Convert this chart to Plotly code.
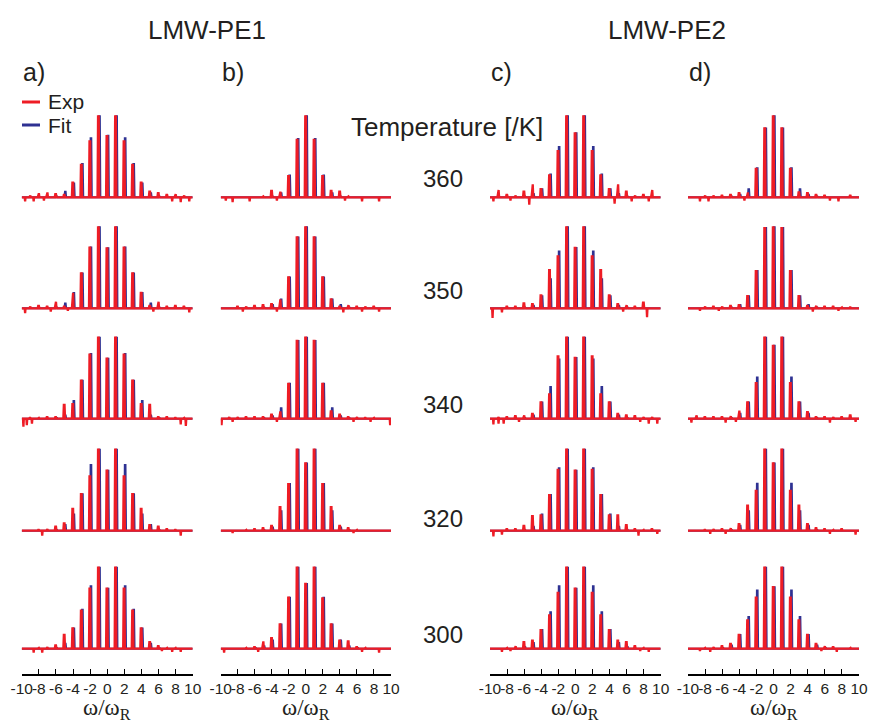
import plotly.graph_objects as go
from plotly.subplots import make_subplots

W, H = 869, 721

# sideband orders (omega / omega_R) and sample temperatures, top row first
orders = list(range(-10, 11))
temperatures = [360, 350, 340, 320, 300]
tick_values = [-10, -8, -6, -4, -2, 0, 2, 4, 6, 8, 10]
tick_labels = ["-10", "-8", "-6", "-4", "-2", "0", "2", "4", "6", "8", "10"]

# normalised sideband intensities, orders -10 ... 10, one row per temperature
exp_a = [
    [0, 0.02, 0.05, 0.06, 0.04, 0.03, 0.18, 0.40, 0.69, 1.00, 0.755, 1.00, 0.69, 0.40, 0.18, 0.07, 0.05, 0.03, 0.04, 0.02, 0],
    [0, 0.02, 0.03, 0.02, 0.08, 0.02, 0.19, 0.43, 0.75, 1.00, 0.74, 1.00, 0.75, 0.43, 0.19, 0.03, 0.08, 0.02, 0.03, 0.02, 0],
    [0, 0.01, 0.01, 0.02, 0.02, 0.17, 0.18, 0.47, 0.79, 1.00, 0.74, 1.00, 0.79, 0.47, 0.18, 0.17, 0.02, 0.02, 0.01, 0.01, 0],
    [0, 0, 0.01, 0.02, 0.05, 0.09, 0.27, 0.45, 0.67, 1.00, 0.74, 1.00, 0.67, 0.45, 0.27, 0.07, 0.05, 0.02, 0.01, 0, 0],
    [0, 0, 0.01, 0.02, 0.04, 0.17, 0.25, 0.47, 0.74, 1.00, 0.74, 1.00, 0.74, 0.47, 0.25, 0.08, 0.03, 0.01, 0.01, 0, 0],
]
fit_a = [
    [0, 0, 0, 0, 0.01, 0.07, 0.17, 0.41, 0.73, 1.00, 0.76, 1.00, 0.73, 0.41, 0.17, 0.05, 0.01, 0, 0, 0, 0],
    [0, 0, 0, 0, 0.01, 0.06, 0.19, 0.43, 0.75, 1.00, 0.74, 1.00, 0.75, 0.43, 0.19, 0.06, 0.01, 0, 0, 0, 0],
    [0, 0, 0, 0, 0.01, 0.04, 0.22, 0.47, 0.80, 1.00, 0.74, 1.00, 0.80, 0.47, 0.22, 0.04, 0.01, 0, 0, 0, 0],
    [0, 0, 0, 0, 0.01, 0.07, 0.20, 0.45, 0.81, 1.00, 0.74, 1.00, 0.81, 0.45, 0.20, 0.07, 0.01, 0, 0, 0, 0],
    [0, 0, 0, 0, 0.01, 0.06, 0.25, 0.48, 0.77, 1.00, 0.74, 1.00, 0.77, 0.48, 0.25, 0.06, 0.01, 0, 0, 0, 0],
]
exp_b = [
    [0, 0, 0, 0, 0, 0.01, 0.08, 0.07, 0.26, 0.71, 1.00, 0.71, 0.26, 0.08, 0.07, 0.01, 0, 0, 0, 0, 0],
    [0, 0, 0.02, 0.02, 0.03, 0.04, 0.05, 0.11, 0.38, 0.875, 1.00, 0.875, 0.38, 0.11, 0.02, 0.04, 0.02, 0.02, 0.02, 0, 0],
    [0, 0.02, 0.02, 0.02, 0.02, 0.02, 0.05, 0.09, 0.43, 0.96, 1.00, 0.96, 0.43, 0.09, 0.05, 0.02, 0.02, 0.01, 0.01, 0, 0],
    [0, 0, 0, 0.01, 0.02, 0.03, 0.06, 0.29, 0.575, 1.00, 0.83, 1.00, 0.575, 0.29, 0.06, 0.03, 0.01, 0, 0, 0, 0],
    [0, 0, 0, 0.01, 0.02, 0.09, 0.13, 0.30, 0.63, 1.00, 0.80, 1.00, 0.62, 0.30, 0.10, 0.09, 0.02, 0.01, 0, 0, 0],
]
fit_b = [
    [0, 0, 0, 0, 0, 0, 0.01, 0.05, 0.27, 0.72, 1.00, 0.72, 0.27, 0.05, 0.01, 0, 0, 0, 0, 0, 0],
    [0, 0, 0, 0, 0, 0.01, 0.04, 0.11, 0.38, 0.875, 1.00, 0.875, 0.38, 0.11, 0.04, 0.01, 0, 0, 0, 0, 0],
    [0, 0, 0, 0, 0, 0.01, 0.03, 0.13, 0.43, 0.96, 1.00, 0.96, 0.43, 0.13, 0.03, 0.01, 0, 0, 0, 0, 0],
    [0, 0, 0, 0, 0, 0.01, 0.04, 0.24, 0.575, 1.00, 0.83, 1.00, 0.575, 0.24, 0.04, 0.01, 0, 0, 0, 0, 0],
    [0, 0, 0, 0, 0.01, 0.03, 0.10, 0.30, 0.63, 1.00, 0.80, 1.00, 0.63, 0.30, 0.10, 0.03, 0.01, 0, 0, 0, 0],
]
exp_c = [
    [0, 0.09, 0.03, 0.02, 0.07, 0.16, 0.10, 0.27, 0.57, 1.00, 0.79, 1.00, 0.57, 0.27, 0.10, 0.16, 0.07, 0.02, 0.03, 0.09, 0],
    [0, 0, 0.02, 0.02, 0.06, 0.05, 0.16, 0.47, 0.64, 1.00, 0.745, 1.00, 0.64, 0.47, 0.16, 0.05, 0.04, 0.02, 0.07, 0, 0],
    [0, 0.02, 0.02, 0.03, 0.04, 0.06, 0.20, 0.30, 0.77, 1.00, 0.75, 1.00, 0.77, 0.30, 0.20, 0.06, 0.04, 0.03, 0.02, 0.02, 0],
    [0, 0, 0.02, 0.02, 0.06, 0.18, 0.19, 0.44, 0.75, 1.00, 0.74, 1.00, 0.75, 0.44, 0.19, 0.19, 0.07, 0.02, 0.01, 0.02, 0],
    [0, 0, 0.01, 0.03, 0.08, 0.10, 0.23, 0.41, 0.69, 1.00, 0.74, 1.00, 0.69, 0.41, 0.23, 0.10, 0.08, 0.03, 0.01, 0, 0],
]
fit_c = [
    [0, 0, 0, 0, 0.01, 0.04, 0.10, 0.28, 0.62, 1.00, 0.79, 1.00, 0.62, 0.28, 0.10, 0.04, 0.01, 0, 0, 0, 0],
    [0, 0, 0, 0, 0.01, 0.03, 0.15, 0.36, 0.70, 1.00, 0.745, 1.00, 0.70, 0.36, 0.15, 0.03, 0.01, 0, 0, 0, 0],
    [0, 0, 0, 0, 0.01, 0.04, 0.20, 0.39, 0.73, 1.00, 0.75, 1.00, 0.73, 0.39, 0.20, 0.04, 0.01, 0, 0, 0, 0],
    [0, 0, 0, 0, 0.01, 0.05, 0.20, 0.44, 0.77, 1.00, 0.74, 1.00, 0.77, 0.44, 0.20, 0.05, 0.01, 0, 0, 0, 0],
    [0, 0, 0, 0, 0.02, 0.07, 0.23, 0.45, 0.77, 1.00, 0.74, 1.00, 0.77, 0.45, 0.23, 0.07, 0.02, 0, 0, 0, 0],
]
exp_d = [
    [0, 0, 0.02, 0.02, 0.02, 0.03, 0.05, 0.06, 0.35, 0.85, 1.00, 0.85, 0.35, 0.06, 0.05, 0.03, 0.02, 0, 0, 0.02, 0],
    [0, 0, 0.02, 0.02, 0.02, 0.03, 0.04, 0.15, 0.46, 0.99, 1.00, 0.99, 0.46, 0.15, 0.03, 0.03, 0.02, 0.02, 0.01, 0.01, 0],
    [0, 0.04, 0.02, 0.02, 0.02, 0.03, 0.10, 0.20, 0.44, 1.00, 0.90, 1.00, 0.44, 0.20, 0.08, 0.02, 0.02, 0.02, 0.02, 0.04, 0],
    [0, 0, 0.01, 0.02, 0.02, 0.03, 0.08, 0.31, 0.49, 1.00, 0.83, 1.00, 0.49, 0.31, 0.08, 0.03, 0.02, 0.01, 0.02, 0, 0],
    [0, 0, 0.01, 0.02, 0.03, 0.06, 0.17, 0.35, 0.63, 1.00, 0.76, 1.00, 0.63, 0.35, 0.17, 0.06, 0.03, 0.02, 0, 0.01, 0],
]
fit_d = [
    [0, 0, 0, 0, 0, 0.01, 0.03, 0.10, 0.36, 0.85, 1.00, 0.85, 0.36, 0.10, 0.03, 0.01, 0, 0, 0, 0, 0],
    [0, 0, 0, 0, 0, 0.01, 0.04, 0.15, 0.46, 0.99, 1.00, 0.99, 0.46, 0.15, 0.04, 0.01, 0, 0, 0, 0, 0],
    [0, 0, 0, 0, 0, 0.01, 0.06, 0.20, 0.51, 1.00, 0.90, 1.00, 0.51, 0.20, 0.06, 0.01, 0, 0, 0, 0, 0],
    [0, 0, 0, 0, 0, 0.01, 0.06, 0.24, 0.58, 1.00, 0.83, 1.00, 0.58, 0.24, 0.06, 0.01, 0, 0, 0, 0, 0],
    [0, 0, 0, 0, 0.01, 0.04, 0.17, 0.39, 0.72, 1.00, 0.76, 1.00, 0.72, 0.39, 0.17, 0.04, 0.01, 0, 0, 0, 0],
]

# negative baseline artefacts in the experimental spectra: (position, depth)
dip_a = [
    [(-9.6, -0.05), (-8.6, -0.05), (-7.4, -0.04), (7.6, -0.05), (8.6, -0.06), (9.6, -0.05)],
    [(-9.6, -0.06), (-6.6, -0.04), (-4.6, -0.03), (5.4, -0.04), (9.6, -0.05)],
    [(-9.8, -0.10), (-9.4, -0.08), (-8.8, -0.06), (8.6, -0.07), (9.2, -0.09)],
    [(-7.6, -0.06), (8.6, -0.06)],
    [(-8.6, -0.05), (-7.6, -0.05), (6.4, -0.03), (7.6, -0.04), (8.6, -0.04)],
]
dip_b = [
    [(-9.4, -0.04), (-8.6, -0.06), (-6.6, -0.05), (-3.4, -0.04), (4.6, -0.04), (6.6, -0.05), (8.6, -0.05)],
    [(-7.4, -0.04), (-3.4, -0.04), (4.4, -0.05), (6.6, -0.04), (8.6, -0.04)],
    [(-9.9, -0.08), (-8.6, -0.04), (-3.4, -0.04), (5.6, -0.04), (7.6, -0.04), (9.9, -0.08)],
    [(-8.6, -0.03), (5.6, -0.03)],
    [(-9.6, -0.05), (-5.6, -0.04), (6.6, -0.04), (8.6, -0.05)],
]
dip_c = [
    [(-9.6, -0.05), (-7.6, -0.04), (-5.4, -0.09), (4.6, -0.08), (6.6, -0.05), (8.6, -0.05)],
    [(-9.7, -0.12), (-8.6, -0.05), (5.6, -0.04), (8.4, -0.11)],
    [(-9.6, -0.07), (-9.0, -0.06), (-8.4, -0.06), (-6.6, -0.04), (7.6, -0.04), (8.6, -0.06), (9.6, -0.06)],
    [(-9.6, -0.07), (-8.6, -0.05), (7.4, -0.06), (9.6, -0.04)],
    [(-8.6, -0.04), (-7.6, -0.03), (7.6, -0.03), (8.6, -0.04)],
]
dip_d = [
    [(-8.6, -0.05), (-7.6, -0.05), (-3.4, -0.04), (6.6, -0.04), (7.6, -0.05)],
    [(-8.6, -0.03), (-6.4, -0.03), (4.6, -0.04), (7.6, -0.03)],
    [(-9.6, -0.05), (-5.6, -0.05), (-4.4, -0.04), (6.6, -0.05), (9.6, -0.04)],
    [(-7.4, -0.04), (-5.6, -0.04), (6.6, -0.04), (9.6, -0.05)],
    [(-8.6, -0.03), (-7.4, -0.04), (5.6, -0.03), (7.4, -0.04)],
]

panel_labels = ["a)", "b)", "c)", "d)"]
sample_names = ["LMW-PE1", "LMW-PE2"]
columns = [(exp_a, fit_a, dip_a), (exp_b, fit_b, dip_b),
           (exp_c, fit_c, dip_c), (exp_d, fit_d, dip_d)]

RED = "#ee1c25"
BLUE = "#2e3192"
INK = "#231f20"
SANS = "Liberation Sans, Arial, sans-serif"
SERIF = "Liberation Serif, Times New Roman, serif"

# panel geometry in pixels
col_px = [(21.7, 192.7), (220.7, 391.0), (490.0, 660.7), (688.0, 859.0)]
baseline_px = [197.3, 308.3, 418.7, 530.7, 648.7]
temp_label_px = [178, 290, 404, 518, 634]
unit_px = 81.0
y_top, y_low = 1.04, -0.15
axis_px = 674.0


def spectrum(heights, shift, dips=()):
    """Line through narrow sideband peaks (and optional negative spikes)."""
    events = []
    for n, h in zip(orders, heights):
        if h:
            c = n + shift
            events.append((c, [(c - 0.10, 0), (c - 0.04, h), (c + 0.04, h), (c + 0.10, 0)]))
    for p, d in dips:
        events.append((p, [(p - 0.05, 0), (p, d), (p + 0.05, 0)]))
    events.sort(key=lambda e: e[0])
    xs, ys = [orders[0]], [0]
    for _, pts in events:
        for x, y in pts:
            xs.append(x)
            ys.append(y)
    xs.append(orders[-1])
    ys.append(0)
    return xs, ys


fig = make_subplots(rows=5, cols=4)

for ci, (exp_sets, fit_sets, dip_sets) in enumerate(columns):
    for ri in range(len(temperatures)):
        fx, fy = spectrum(fit_sets[ri], 0.10)
        ex, ey = spectrum(exp_sets[ri], -0.03, dip_sets[ri])
        fig.add_trace(go.Scatter(x=fx, y=fy, mode="lines", name="Fit", showlegend=False,
                                 line=dict(color=BLUE, width=2.0), hoverinfo="skip"),
                      row=ri + 1, col=ci + 1)
        fig.add_trace(go.Scatter(x=ex, y=ey, mode="lines", name="Exp", showlegend=False,
                                 line=dict(color=RED, width=2.3), hoverinfo="skip"),
                      row=ri + 1, col=ci + 1)

for ri in range(5):
    last = ri == 4
    lo = y_low if not last else -(axis_px - baseline_px[ri]) / unit_px
    top_px = baseline_px[ri] - y_top * unit_px
    bot_px = baseline_px[ri] - lo * unit_px
    for ci in range(4):
        x0, x1 = col_px[ci]
        fig.update_xaxes(row=ri + 1, col=ci + 1, domain=[x0 / W, x1 / W], range=[-10, 10],
                         automargin=False, showgrid=False, zeroline=False, showline=last,
                         linecolor="black", linewidth=1.6, mirror=False,
                         ticks="inside" if last else "", ticklen=5, tickwidth=1.2,
                         tickcolor="black", tickvals=tick_values, ticktext=tick_labels,
                         tickangle=0, showticklabels=last,
                         tickfont=dict(family=SANS, size=15.5, color=INK))
        fig.update_yaxes(row=ri + 1, col=ci + 1, automargin=False,
                         domain=[1 - bot_px / H, 1 - top_px / H], range=[lo, y_top],
                         visible=False, showgrid=False, zeroline=False)

annotations = []


def text_at(x, y, s, size, family=SANS, anchor="center"):
    annotations.append(dict(x=x / W, y=1 - y / H, xref="paper", yref="paper", text=s,
                            showarrow=False, xanchor=anchor, yanchor="middle",
                            font=dict(family=family, size=size, color=INK)))


text_at(207, 30, sample_names[0], 26)
text_at(667, 30, sample_names[1], 26)
for ci, lab in enumerate(panel_labels):
    text_at(col_px[ci][0] - 1, 72, lab, 25, anchor="left")
text_at(447, 127, "Temperature [/K]", 26)
for ri, t in enumerate(temperatures):
    text_at(443, temp_label_px[ri], str(t), 24)
for ci in range(4):
    text_at((col_px[ci][0] + col_px[ci][1]) / 2, 709, "ω/ω<sub>R</sub>", 23, family=SERIF)

# legend key
text_at(46, 102, "Exp", 21, anchor="left")
text_at(46, 125, "Fit", 21, anchor="left")
shapes = [
    dict(type="line", xref="paper", yref="paper", x0=22 / W, x1=40 / W,
         y0=1 - 102 / H, y1=1 - 102 / H, line=dict(color=RED, width=3)),
    dict(type="line", xref="paper", yref="paper", x0=22 / W, x1=40 / W,
         y0=1 - 125 / H, y1=1 - 125 / H, line=dict(color=BLUE, width=3)),
]

fig.update_layout(width=W, height=H, margin=dict(l=0, r=0, t=0, b=0, autoexpand=False),
                  paper_bgcolor="white", plot_bgcolor="rgba(0,0,0,0)",
                  showlegend=False, annotations=annotations, shapes=shapes)

fig.write_html("out.html")
